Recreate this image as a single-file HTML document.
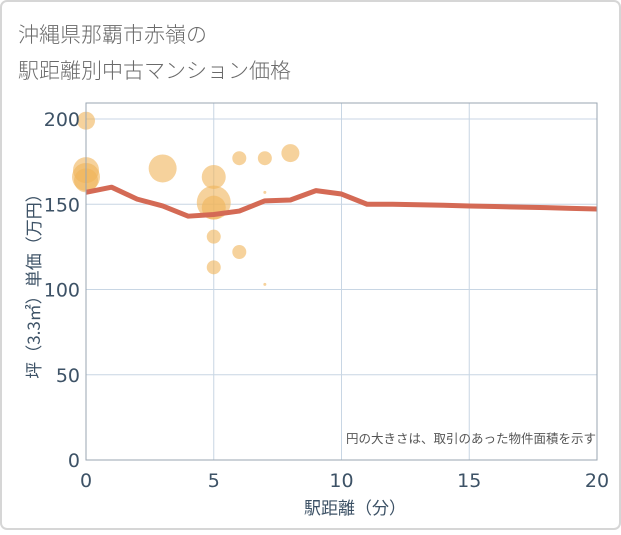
<!DOCTYPE html>
<html><head><meta charset="utf-8"><style>
body{margin:0;background:#fff;}
#wrap{position:relative;width:621px;height:530px;font-family:"Liberation Sans","Noto Sans CJK JP",sans-serif;}
</style></head><body>
<div id="wrap">
<svg id="chart" width="621" height="530" xmlns="http://www.w3.org/2000/svg">
<rect x="1" y="1" width="619" height="528" rx="6" fill="#fff" stroke="#d6d6d6" stroke-width="2"/>
<text x="18" y="42" font-size="21" fill="#6a6a6a" font-family="Noto Sans CJK JP, sans-serif" font-weight="300">沖縄県那覇市赤嶺の</text>
<text x="18" y="78" font-size="21" fill="#6a6a6a" font-family="Noto Sans CJK JP, sans-serif" font-weight="300">駅距離別中古マンション価格</text>
<g id="grid"></g><g id="bubbles"></g><g id="line"></g><g id="axes"></g>
<text x="596" y="443" font-size="12.5" fill="#555" text-anchor="end" font-family="Noto Sans CJK JP, sans-serif">円の大きさは、取引のあった物件面積を示す</text>
<text x="355" y="514" font-size="17" fill="#3d5266" text-anchor="middle" font-family="Noto Sans CJK JP, sans-serif">駅距離（分）</text>
<text transform="translate(40,282) rotate(-90)" font-size="17" fill="#3d5266" text-anchor="middle" font-family="Noto Sans CJK JP, sans-serif">坪（3.3㎡）単価（万円）</text>
</svg>
</div>
<script>
const xTicks=[0,5,10,15,20];
const yTicks=[0,50,100,150,200];
const lineX=[0,1,2,3,4,5,6,7,8,9,10,11,12,13,14,15,16,17,18,19,20];
const lineY=[157,160,153,149,143,144,146,152,152.5,158,156,150,150,149.7,149.4,149,148.7,148.3,148,147.6,147.2];
const bubX=[0,0,0,0,3,5,5,5,5,5,6,6,7,8,7,7];
const bubY=[199,170,166,164,171,166,151,148,131,113,177,122,177,180,157,103];
const bubR=[9,13,14,12,14,12,17,12,7,7,7,7,7,9,1.5,1.5];
const L=86,R=597,T=103,B=460;
const xs=v=>L+(v/20)*(R-L);
const ys=v=>B-(v/200)*(B-119);
const NS="http://www.w3.org/2000/svg";
function mk(tag,attrs,parent){const e=document.createElementNS(NS,tag);for(const k in attrs)e.setAttribute(k,attrs[k]);parent.appendChild(e);return e;}
const grid=document.getElementById('grid'),axes=document.getElementById('axes');
xTicks.forEach(t=>{
 const g=mk('line',{x1:xs(t),x2:xs(t),y1:T,y2:B,stroke:'#c8d6e4','stroke-width':1},grid);
 
 
 const tx=mk('text',{x:xs(t),y:487,'font-size':19,fill:'#3d5266','text-anchor':'middle','font-family':'DejaVu Sans, sans-serif'},axes);
 tx.textContent=t;
 
 
});
yTicks.forEach(t=>{
 const g=mk('line',{x1:L,x2:R,y1:ys(t),y2:ys(t),stroke:'#c8d6e4','stroke-width':1},grid);
 
 
 const tx=mk('text',{x:80,y:ys(t)+7,'font-size':19,fill:'#3d5266','text-anchor':'end','font-family':'DejaVu Sans, sans-serif'},axes);
 tx.textContent=t;
 
 
});
const fr=mk('rect',{x:L,y:T,width:R-L,height:B-T,fill:'none',stroke:'#9aa6b2','stroke-width':1},axes);


const bg=document.getElementById('bubbles');
bubX.forEach((x,i)=>{
 const c=mk('circle',{cx:xs(x),cy:ys(bubY[i]),r:bubR[i],fill:'rgba(240,180,90,0.6)'},bg);
 
 
});
const p=mk('polyline',{points:lineX.map((x,i)=>xs(x)+','+ys(lineY[i])).join(' '),fill:'none',stroke:'#d46a55','stroke-width':5,'stroke-linejoin':'round'},document.getElementById('line'));


</script>
</body></html>
